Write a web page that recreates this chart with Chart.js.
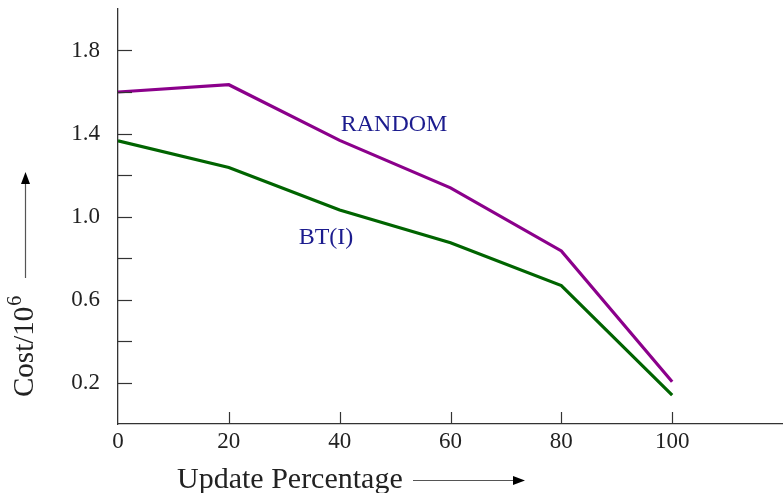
<!DOCTYPE html>
<html lang="en">
<head>
    <meta charset="UTF-8">
    <title>Cost vs Update Percentage</title>
    <script src="https://cdn.jsdelivr.net/npm/chart.js"></script>
    <style>
        html, body { margin: 0; padding: 0; background: #fff; }
        canvas { display: block; }
    </style>
</head>
<body>
    <canvas id="costChart" width="783" height="493"></canvas>

    <script>
        // valores
        const updatePct = [0, 20, 40, 60, 80, 100];
        const randomCost = [1.60, 1.635, 1.367, 1.138, 0.834, 0.204];
        const btCost = [1.365, 1.236, 1.031, 0.874, 0.667, 0.139];
        const yLabeled = [0.2, 0.6, 1.0, 1.4, 1.8];
        const xLabeled = [0, 20, 40, 60, 80, 100];

        const serif = '"Liberation Serif", "DejaVu Serif", serif';

        function arrow(ctx, x1, y1, x2, y2) {
            const ang = Math.atan2(y2 - y1, x2 - x1);
            const hl = 12, hw = 4.5;
            ctx.save();
            ctx.strokeStyle = '#555';
            ctx.lineWidth = 1.2;
            ctx.beginPath();
            ctx.moveTo(x1, y1);
            ctx.lineTo(x2 - hl * Math.cos(ang), y2 - hl * Math.sin(ang));
            ctx.stroke();
            ctx.fillStyle = '#000';
            ctx.translate(x2, y2);
            ctx.rotate(ang);
            ctx.beginPath();
            ctx.moveTo(0, 0);
            ctx.lineTo(-hl, -hw);
            ctx.lineTo(-hl, hw);
            ctx.closePath();
            ctx.fill();
            ctx.restore();
        }

        // marcas internas, rótulos das curvas e títulos dos eixos
        const extras = {
            id: 'extras',
            afterDraw(chart) {
                const ctx = chart.ctx;
                const xs = chart.scales.x, ys = chart.scales.y;
                const area = chart.chartArea;
                ctx.save();
                ctx.strokeStyle = '#333';
                ctx.lineWidth = 1.2;
                ys.ticks.forEach(t => {
                    if (t.value <= 0 || t.value >= 2) return;
                    const py = Math.round(ys.getPixelForValue(t.value)) + 0.5;
                    ctx.beginPath();
                    ctx.moveTo(area.left, py);
                    ctx.lineTo(area.left + 14, py);
                    ctx.stroke();
                });
                xs.ticks.forEach(t => {
                    if (t.value <= 0 || t.value > 100) return;
                    const px = Math.round(xs.getPixelForValue(t.value)) + 0.5;
                    ctx.beginPath();
                    ctx.moveTo(px, area.bottom);
                    ctx.lineTo(px, area.bottom - 12);
                    ctx.stroke();
                });

                // rótulos das séries
                ctx.fillStyle = '#1c1c8e';
                ctx.font = '24px ' + serif;
                ctx.textAlign = 'left';
                ctx.textBaseline = 'middle';
                ctx.fillText('RANDOM', xs.getPixelForValue(40.2), ys.getPixelForValue(1.44));
                ctx.fillText('BT(I)', xs.getPixelForValue(32.6), ys.getPixelForValue(0.90));

                // título do eixo x
                ctx.fillStyle = '#222';
                ctx.font = '30px ' + serif;
                ctx.textBaseline = 'alphabetic';
                ctx.fillText('Update Percentage', 177, 488);
                arrow(ctx, 413, 480.5, 525, 480.5);

                // título do eixo y (girado)
                ctx.save();
                ctx.translate(33, 397);
                ctx.rotate(-Math.PI / 2);
                ctx.font = '29px ' + serif;
                ctx.fillText('Cost/10', 0, 0);
                const w = ctx.measureText('Cost/10').width;
                ctx.font = '20px ' + serif;
                ctx.fillText('6', w + 1, -12);
                ctx.restore();
                arrow(ctx, 25.5, 278, 25.5, 172);
                ctx.restore();
            }
        };

        new Chart(document.getElementById('costChart'), {
            type: 'line',
            data: {
                datasets: [
                    {
                        label: 'RANDOM',
                        data: updatePct.map((x, i) => ({ x: x, y: randomCost[i] })),
                        borderColor: '#8b008b',
                        borderWidth: 3.2,
                        pointRadius: 0,
                        tension: 0,
                        fill: false
                    },
                    {
                        label: 'BT(I)',
                        data: updatePct.map((x, i) => ({ x: x, y: btCost[i] })),
                        borderColor: '#006400',
                        borderWidth: 3.2,
                        pointRadius: 0,
                        tension: 0,
                        fill: false
                    }
                ]
            },
            options: {
                responsive: false,
                animation: false,
                layout: { padding: { top: 9, right: 0, left: 0, bottom: 0 } },
                plugins: {
                    legend: { display: false },
                    tooltip: { enabled: false }
                },
                scales: {
                    x: {
                        type: 'linear',
                        min: 0,
                        max: 120,
                        grid: { display: false, drawTicks: false },
                        border: { display: true, color: '#333', width: 1.3 },
                        ticks: {
                            stepSize: 20,
                            padding: 4,
                            color: '#222',
                            font: { family: serif, size: 23 },
                            maxRotation: 0,
                            callback: v => xLabeled.includes(v) ? String(v) : ''
                        },
                        afterFit: s => {
                            s.height = 69;
                            s.paddingLeft = 0;
                            s.paddingRight = 0;
                        }
                    },
                    y: {
                        type: 'linear',
                        min: 0,
                        max: 2,
                        grid: { display: false, drawTicks: false },
                        border: { display: true, color: '#333', width: 1.3 },
                        ticks: {
                            stepSize: 0.2,
                            padding: 18,
                            color: '#222',
                            font: { family: serif, size: 23 },
                            callback: v => yLabeled.some(l => Math.abs(l - v) < 1e-6) ? v.toFixed(1) : ''
                        },
                        afterFit: s => {
                            s.width = 118;
                            s.paddingTop = 0;
                            s.paddingBottom = 0;
                        }
                    }
                }
            },
            plugins: [extras]
        });
    </script>
</body>
</html>
